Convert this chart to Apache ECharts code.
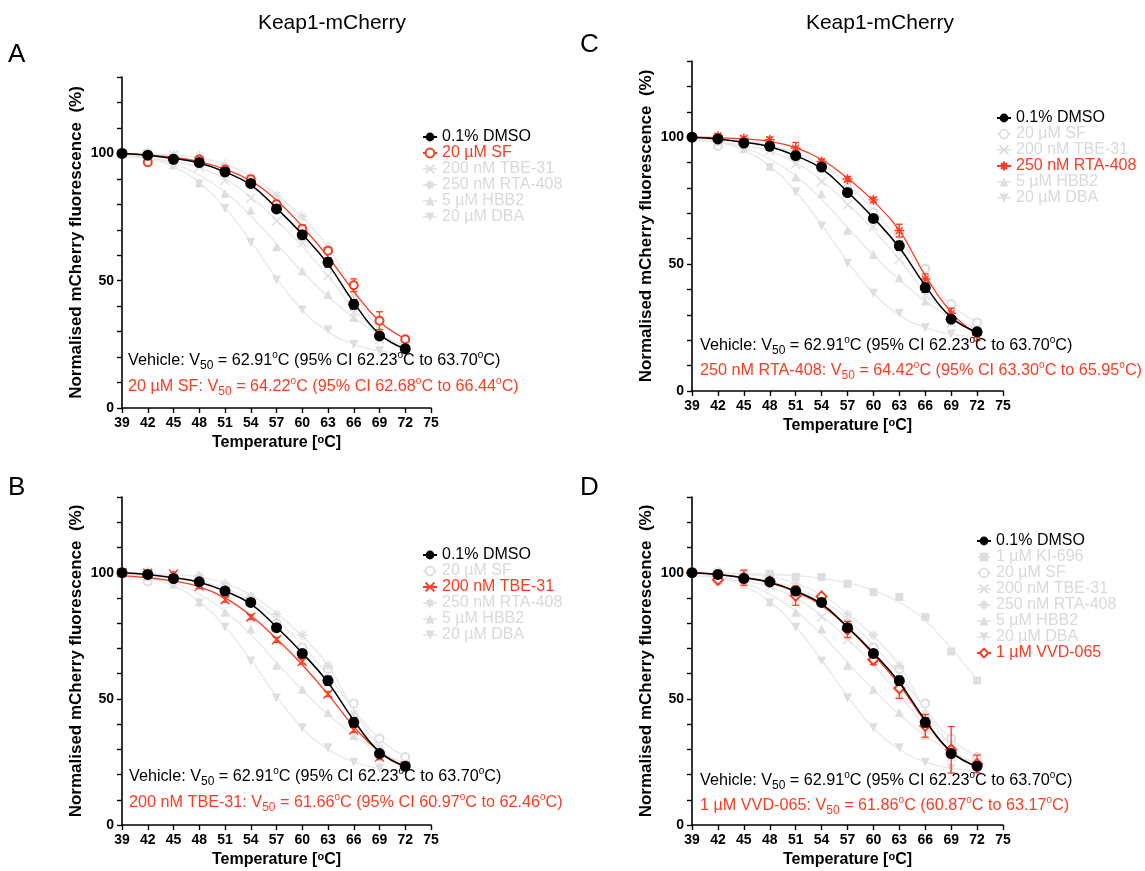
<!DOCTYPE html>
<html><head><meta charset="utf-8">
<script src="https://cdn.jsdelivr.net/npm/echarts@6/dist/echarts.min.js"></script>
<style>html,body{margin:0;padding:0;background:#fff}#c{width:1145px;height:871px}</style>
</head><body><div id="c"></div>
<script>
// ---------- data ----------
const temps = [39, 42, 45, 48, 51, 54, 57, 60, 63, 66, 69, 72];

const dmso    = [100, 99.3, 97.7, 96.4, 92.7, 88.2, 78.2, 68.0, 57.2, 40.7, 28.3, 23.3];
const dmsoFit = [100, 99.3, 98.0, 96.2, 92.7, 87.6, 78.5, 68.2, 56.5, 41.5, 29.0, 23.2];
const dmsoSd  = [0, 0.8, 0.8, 0.8, 1.0, 0.8, 1.0, 1.0, 1.8, 1.8, 1.0, 1.0];

const sf      = [100, 96.5, 97.8, 97.6, 93.7, 89.8, 80.0, 70.4, 61.8, 48.2, 34.3, 27.0];
const sfFit   = [100, 99.4, 98.4, 96.8, 93.8, 89.2, 81.6, 71.3, 59.4, 45.8, 34.0, 27.2];
const sfSd    = [0, 0.5, 0.5, 1.0, 1.0, 1.5, 1.5, 1.5, 1.0, 2.5, 3.5, 1.0];

const tbe     = [100, 99.8, 99.5, 94.6, 89.3, 82.4, 73.4, 64.8, 51.9, 37.7, 26.9, 23.4];
const tbeFit  = [98.8, 98.0, 96.7, 94.5, 90.0, 83.0, 73.8, 63.5, 51.8, 39.0, 29.0, 23.2];
const tbeSd   = [0, 0.8, 0.8, 0.8, 1.0, 1.0, 1.0, 1.0, 1.0, 1.0, 1.0, 1.0];

const rta     = [100, 100.5, 99.5, 99.0, 95.7, 90.4, 83.5, 75.3, 63.2, 44.1, 30.6, 22.0];
const rtaFit  = [100, 99.8, 99.3, 98.3, 95.9, 91.2, 83.9, 74.8, 63.3, 45.5, 31.0, 22.2];
const rtaSd   = [0, 0.8, 0.8, 1.0, 2.2, 1.0, 1.0, 1.0, 2.5, 2.0, 2.0, 2.2];

const hbb2    = [100, 98.5, 95.5, 88.5, 84.3, 77.7, 63.3, 53.8, 44.6, 35.5, 28.8, 24.0];
const hbb2Fit = [99.5, 98.5, 96.0, 91.5, 84.8, 75.5, 64.5, 53.5, 43.8, 35.5, 29.0, 24.5];

const dba     = [100, 98.0, 95.0, 88.0, 78.4, 65.0, 50.3, 38.5, 30.6, 24.9, 22.5, 21.5];
const dbaFit  = [99.5, 98.0, 94.8, 88.5, 78.6, 65.5, 51.0, 38.5, 30.0, 25.0, 22.4, 21.3];

const ki696    = [100, 99.5, 99.3, 99.6, 98.3, 98.3, 95.6, 92.3, 90.4, 82.4, 68.8, 57.3];
const ki696Fit = [100, 99.9, 99.7, 99.4, 98.8, 97.8, 96.0, 93.0, 88.3, 81.0, 70.0, 57.5];

const vvd     = [100, 97.2, 98.0, 96.5, 90.9, 90.6, 77.5, 65.5, 54.2, 39.3, 29.8, 24.2];
const vvdFit  = [100, 99.3, 98.0, 96.0, 92.4, 87.0, 78.3, 67.5, 55.5, 41.0, 29.0, 23.0];
const vvdSd   = [0, 0.5, 3.0, 0.5, 3.8, 0.8, 3.2, 2.0, 4.0, 4.5, 9.2, 3.5];

const yLabelTicks = [0, 50, 100];

const annotVehicle = 'Vehicle: V{sub|50} = 62.91{sup|o}C (95% CI 62.23{sup|o}C to 63.70{sup|o}C)';
const annotA = '20 µM SF: V{sub|50} = 64.22{sup|o}C (95% CI 62.68{sup|o}C to 66.44{sup|o}C)';
const annotB = '200 nM TBE-31: V{sub|50} = 61.66{sup|o}C (95% CI 60.97{sup|o}C to 62.46{sup|o}C)';
const annotC = '250 nM RTA-408: V{sub|50} = 64.42{sup|o}C (95% CI 63.30{sup|o}C to 65.95{sup|o}C)';
const annotD = '1 µM VVD-065: V{sub|50} = 61.86{sup|o}C (60.87{sup|o}C to 63.17{sup|o}C)';

// ---------- styling ----------
const FONT = '"Liberation Sans", Arial, Helvetica, sans-serif';
const RED = '#fb3c22', BLACK = '#000000';
const GREY_M = '#dedede', GREY_L = '#e8e8e8', GREY_T = '#d9d9d9';

const SYM = {
  circle: 'circle',
  ring: 'emptyCircle',
  cross: 'path://M0,0L10,10M10,0L0,10',
  star: 'path://M5,0L5,10M0,5L10,5M1.6,1.6L8.4,8.4M8.4,1.6L1.6,8.4',
  up: 'triangle',
  down: 'path://M0,0L10,0L5,8.66Z',
  square: 'rect',
  diamond: 'emptyDiamond'
};

const compounds = {
  dmso: { label: '0.1% DMSO', y: dmso, fit: dmsoFit, sd: dmsoSd, sym: 'circle', size: 11 },
  sf:   { label: '20 µM SF', y: sf, fit: sfFit, sd: sfSd, sym: 'ring', size: 8 },
  tbe:  { label: '200 nM TBE-31', y: tbe, fit: tbeFit, sd: tbeSd, sym: 'cross', size: 9 },
  rta:  { label: '250 nM RTA-408', y: rta, fit: rtaFit, sd: rtaSd, sym: 'star', size: 10 },
  hbb2: { label: '5 µM HBB2', y: hbb2, fit: hbb2Fit, sd: null, sym: 'up', size: 9 },
  dba:  { label: '20 µM DBA', y: dba, fit: dbaFit, sd: null, sym: 'down', size: 9 },
  ki:   { label: '1 µM KI-696', y: ki696, fit: ki696Fit, sd: null, sym: 'square', size: 8 },
  vvd:  { label: '1 µM VVD-065', y: vvd, fit: vvdFit, sd: vvdSd, sym: 'diamond', size: 10 }
};

const panels = [
  { id: 'A', grid: { left: 122, top: 77, width: 309, height: 331 },
    order: ['dmso', 'sf', 'tbe', 'rta', 'hbb2', 'dba'], hi: 'sf',
    legend: { left: 422, top: 127 }, text: { x: 128, y1: 361, y2: 387, str: annotA } },
  { id: 'B', grid: { left: 122, top: 497, width: 309, height: 328 },
    order: ['dmso', 'sf', 'tbe', 'rta', 'hbb2', 'dba'], hi: 'tbe',
    legend: { left: 422, top: 545 }, text: { x: 129, y1: 777, y2: 803, str: annotB } },
  { id: 'C', grid: { left: 692, top: 61, width: 311, height: 330 },
    order: ['dmso', 'sf', 'tbe', 'rta', 'hbb2', 'dba'], hi: 'rta',
    legend: { left: 996, top: 108 }, text: { x: 700, y1: 346, y2: 371, str: annotC } },
  { id: 'D', grid: { left: 692, top: 497, width: 311, height: 328 },
    order: ['dmso', 'ki', 'sf', 'tbe', 'rta', 'hbb2', 'dba', 'vvd'], hi: 'vvd',
    legend: { left: 976, top: 531 }, text: { x: 700, y1: 781, y2: 806, str: annotD } }
];

function markerStyle(sym, col) {
  if (sym === 'ring' || sym === 'diamond') return { color: col, borderColor: col, borderWidth: 2, opacity: 1 };
  if (sym === 'cross' || sym === 'star') return { color: col, borderColor: col, borderWidth: 1.4, opacity: 1 };
  return { color: col, opacity: 1 };
}

const grids = [], xAxes = [], yAxes = [], series = [], legends = [], graphics = [];

panels.forEach((p, i) => {
  grids.push(Object.assign({ containLabel: false }, p.grid));
  xAxes.push({
    type: 'value', gridIndex: i, min: 39, max: 75, interval: 3,
    name: 'Temperature [{s|o}C]', nameLocation: 'middle', nameGap: 26,
    nameTextStyle: { fontWeight: 'bold', fontSize: 16, fontFamily: FONT, color: '#000', lineHeight: 18,
      rich: { s: { fontSize: 11, fontWeight: 'bold', fontFamily: FONT, verticalAlign: 'top', lineHeight: 10, color: '#000' } } },
    axisLine: { lineStyle: { color: '#000', width: 1.6 } },
    axisTick: { length: 5, lineStyle: { color: '#000', width: 1.4 } },
    splitLine: { show: false },
    axisLabel: { fontWeight: 'bold', fontSize: 14, fontFamily: FONT, color: '#000', margin: 8 }
  });
  yAxes.push({
    type: 'value', gridIndex: i, min: 0, max: 130, interval: 10,
    name: 'Normalised mCherry fluorescence  (%)', nameLocation: 'middle', nameGap: 37,
    nameTextStyle: { fontWeight: 'bold', fontSize: 17, fontFamily: FONT, color: '#000' },
    axisLine: { show: true, lineStyle: { color: '#000', width: 1.6 } },
    axisTick: { show: true, length: 5, lineStyle: { color: '#000', width: 1.4 } },
    splitLine: { show: false },
    axisLabel: { fontWeight: 'bold', fontSize: 14, fontFamily: FONT, color: '#000', margin: 8,
      formatter: v => (yLabelTicks.indexOf(v) >= 0 ? String(v) : '') }
  });

  const drawOrder = p.order.filter(k => k !== 'dmso' && k !== p.hi).concat([p.hi, 'dmso']);
  drawOrder.forEach((k, j) => {
    const c = compounds[k];
    const col = k === 'dmso' ? BLACK : (k === p.hi ? RED : GREY_M);
    const lcol = k === 'dmso' ? BLACK : (k === p.hi ? RED : GREY_L);
    const ms = markerStyle(c.sym, col);
    const zb = 2 + j * 3;
    series.push({
      type: 'line', name: p.id + '|' + k, xAxisIndex: i, yAxisIndex: i,
      data: temps.map((t, n) => [t, c.fit[n]]),
      smooth: 0.45, showSymbol: false, symbol: SYM[c.sym],
      lineStyle: { color: lcol, width: k === 'dmso' ? 1.5 : 1.3 },
      itemStyle: ms, silent: true, z: zb, animation: false
    });
    const colored = (k === 'dmso' || k === p.hi);
    if (colored && c.sd) {
      series.push({
        type: 'custom', name: p.id + '|' + k + '|err', xAxisIndex: i, yAxisIndex: i, z: zb + 1, silent: true,
        encode: { x: 0, y: [1, 2] },
        data: temps.map((t, n) => [t, c.y[n] - c.sd[n], c.y[n] + c.sd[n]]).filter((d, n) => c.sd[n] > 0),
        renderItem: (params, api) => {
          const x = api.value(0);
          const a = api.coord([x, api.value(2)]), b = api.coord([x, api.value(1)]);
          const w = 3.5, st = { stroke: col, lineWidth: 1.3 };
          return { type: 'group', children: [
            { type: 'line', shape: { x1: a[0], y1: a[1], x2: b[0], y2: b[1] }, style: st },
            { type: 'line', shape: { x1: a[0] - w, y1: a[1], x2: a[0] + w, y2: a[1] }, style: st },
            { type: 'line', shape: { x1: b[0] - w, y1: b[1], x2: b[0] + w, y2: b[1] }, style: st }
          ] };
        }
      });
    }
    series.push({
      type: 'scatter', name: p.id + '|' + k + '|pts', xAxisIndex: i, yAxisIndex: i,
      data: temps.map((t, n) => [t, c.y[n]]),
      symbol: SYM[c.sym], symbolSize: c.size, itemStyle: ms, silent: true, z: zb + 2, animation: false
    });
  });

  legends.push({
    orient: 'vertical', left: p.legend.left, top: p.legend.top + 2, padding: 0,
    itemWidth: 14, itemHeight: 11, itemGap: 0, selectedMode: false,
    textStyle: { fontSize: 16, fontFamily: FONT, lineHeight: p.id === 'D' ? 15.6 : 16 },
    formatter: name => compounds[name.split('|')[1]].label,
    data: p.order.map(k => ({ name: p.id + '|' + k,
      textStyle: { color: k === 'dmso' ? BLACK : (k === p.hi ? RED : GREY_T) } }))
  });

  const rich = col => ({
    sub: { fontSize: 12, lineHeight: 12, verticalAlign: 'bottom', fill: col, fontFamily: FONT },
    sup: { fontSize: 10, lineHeight: 10, verticalAlign: 'top', fill: col, fontFamily: FONT }
  });
  graphics.push({ type: 'text', x: p.text.x, y: p.text.y1, z: 50,
    style: { text: annotVehicle, fill: BLACK, fontSize: 16.2, fontFamily: FONT, lineHeight: 21, verticalAlign: 'middle', rich: rich(BLACK) } });
  graphics.push({ type: 'text', x: p.text.x, y: p.text.y2, z: 50,
    style: { text: p.text.str, fill: RED, fontSize: 16.2, fontFamily: FONT, lineHeight: 21, verticalAlign: 'middle', rich: rich(RED) } });
});

// titles and panel letters
[['Keap1-mCherry', 332, 23], ['Keap1-mCherry', 880, 23]].forEach(t => graphics.push({
  type: 'text', x: t[1], y: t[2], style: { text: t[0], fontSize: 21, fontFamily: FONT, fill: '#000', align: 'center', verticalAlign: 'middle' } }));
[['A', 8, 55], ['B', 8, 488], ['C', 580, 45], ['D', 580, 488]].forEach(t => graphics.push({
  type: 'text', x: t[1], y: t[2], style: { text: t[0], fontSize: 26, fontFamily: FONT, fill: '#000', verticalAlign: 'middle' } }));

const chart = echarts.init(document.getElementById('c'), null, { renderer: 'canvas' });
chart.setOption({
  animation: false,
  backgroundColor: '#fff',
  grid: grids, xAxis: xAxes, yAxis: yAxes,
  legend: legends, series: series, graphic: graphics
});
</script>
</body></html>
